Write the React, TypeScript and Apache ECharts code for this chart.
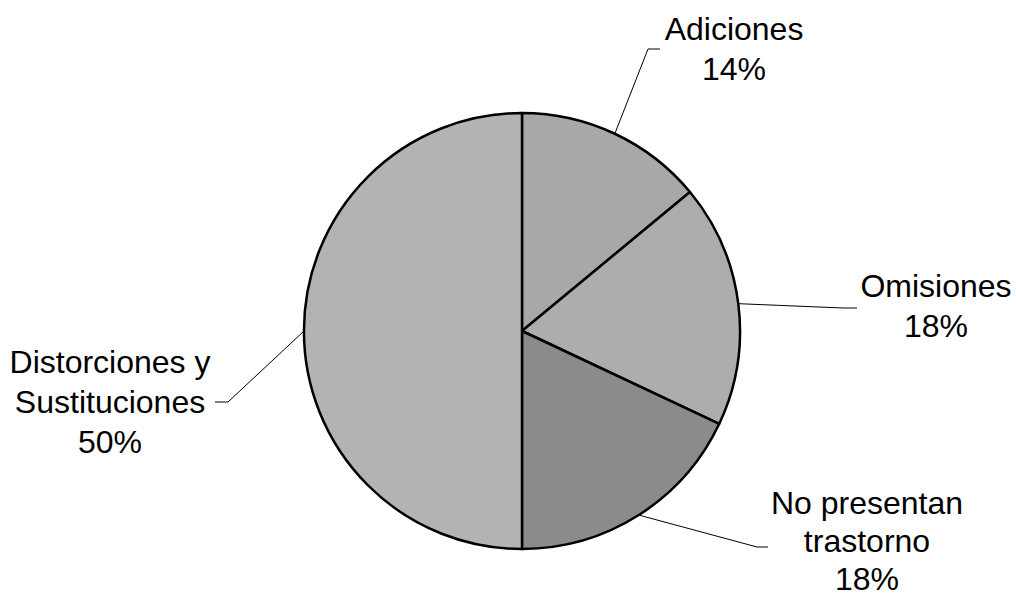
import React, { useEffect, useRef } from "react";
import * as echarts from "echarts";

const categories = ["Adiciones", "Omisiones", "No presentan\ntrastorno", "Distorciones y\nSustituciones"];
const values = [14, 18, 18, 50];
const colors = ["#a8a8a8", "#adadad", "#8b8b8b", "#b3b3b3"];

// label placement (center of text block) and leader-line bends, in pixels
const labelPos: [number, number][] = [
  [734, 49],
  [936, 306],
  [867, 541],
  [110, 402],
];
const labelLineHeights = [40, 40, 38, 40];
const bendPts: [number, number][][] = [
  [[648, 49], [660, 49]],
  [[843, 308], [857, 308]],
  [[757, 547], [768, 547]],
  [[228, 402], [215, 402]],
];

export default function App() {
  const ref = useRef<HTMLDivElement>(null);
  useEffect(() => {
    if (!ref.current) return;
    const chart = echarts.init(ref.current, null, { renderer: "svg" });
    const cx = 522;
    const cy = 331;
    const r = 218;
    const total = values.reduce((a, b) => a + b, 0);
    chart.setOption({
      animation: false,
      backgroundColor: "#ffffff",
      series: [
        {
          type: "pie",
          center: [cx, cy],
          radius: [0, r],
          startAngle: 90,
          clockwise: true,
          avoidLabelOverlap: false,
          data: categories.map((name, i) => ({
            name,
            value: values[i],
            itemStyle: { color: colors[i] },
            label: { lineHeight: labelLineHeights[i] },
          })),
          itemStyle: { borderColor: "#000000", borderWidth: 2.5 },
          label: {
            show: true,
            position: "outside",
            formatter: (p: any) => `${p.name}\n${p.value}%`,
            fontFamily: "Liberation Sans, Arial, sans-serif",
            fontSize: 32,
            lineHeight: 40,
            color: "#000000",
            align: "center",
          },
          labelLine: {
            show: true,
            lineStyle: { color: "#000000", width: 1 },
          },
          labelLayout: (params: any) => {
            const i = params.dataIndex;
            // start point on the arc at the slice's mid angle
            let before = 0;
            for (let k = 0; k < i; k++) before += values[k];
            const mid = ((before + values[i] / 2) / total) * Math.PI * 2;
            const p0 = [cx + r * Math.sin(mid), cy - r * Math.cos(mid)];
            return {
              x: labelPos[i][0],
              y: labelPos[i][1],
              align: "center",
              verticalAlign: "middle",
              labelLinePoints: [p0, bendPts[i][0], bendPts[i][1]],
            };
          },
        },
      ],
    });
    return () => chart.dispose();
  }, []);
  return (
    <div
      ref={ref}
      style={{ position: "fixed", left: 0, top: 0, width: 1016, height: 597 }}
    />
  );
}
